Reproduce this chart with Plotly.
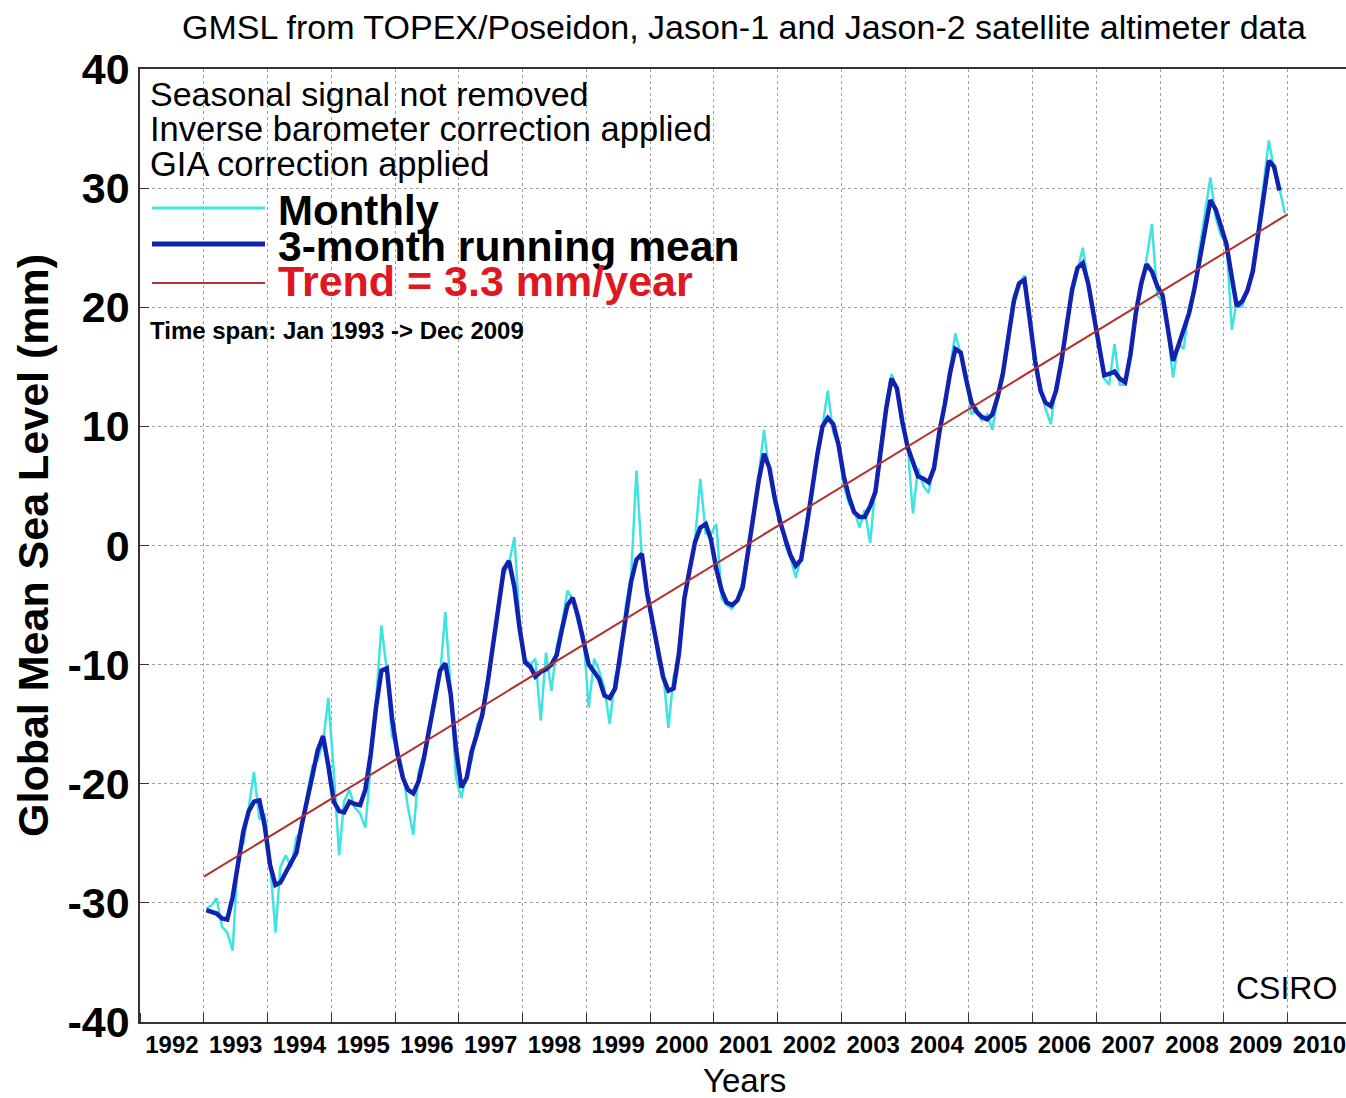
import plotly.graph_objects as go

# ---------------- data ----------------
years = list(range(1993, 2010))
month_dates = [f"{y}-{m:02d}-15" for y in years for m in range(1, 13)]

# Monthly GMSL (mm), Jan 1993 .. Dec 2009
monthly_mm = [
    -30.5, -30.2, -29.6, -32.0, -32.5, -34.0, -26.0, -25.0, -22.0, -19.0, -23.0, -22.5,  # 1993
    -26.5, -32.5, -27.0, -26.0, -27.0, -24.5, -24.0, -21.0, -18.5, -18.0, -16.5, -12.8,  # 1994
    -19.0, -26.0, -21.5, -20.5, -22.0, -22.5, -23.7, -18.5, -13.0, -6.7, -10.5, -16.0,   # 1995
    -17.0, -19.0, -22.0, -24.3, -19.0, -17.5, -15.0, -13.5, -11.0, -5.6, -12.0, -19.5,   # 1996
    -21.2, -19.0, -18.0, -15.0, -14.5, -11.0, -8.5, -5.0, -2.5, -1.5, 0.7, -6.5,         # 1997
    -9.5, -10.0, -9.5, -14.7, -9.0, -12.2, -8.5, -6.5, -3.8, -4.5, -6.5, -7.5,           # 1998
    -13.6, -9.5, -10.5, -12.0, -15.0, -11.0, -10.0, -5.0, -2.5, 6.3, -1.0, -4.0,         # 1999
    -6.0, -9.5, -10.5, -15.3, -11.0, -9.5, -4.0, -2.5, 0.5, 5.6, 1.0, 1.0,               # 2000
    1.8, -4.5, -5.0, -5.3, -4.5, -3.0, 0.0, 2.0, 6.0, 9.7, 6.0, 3.5,                     # 2001
    2.5, 0.0, -1.0, -2.7, -1.0, 2.0, 4.0, 8.0, 10.0, 13.0, 9.5, 8.5,                     # 2002
    5.0, 3.5, 3.0, 1.5, 3.0, 0.2, 5.0, 8.5, 12.0, 14.4, 13.0, 10.0,                      # 2003
    8.5, 2.7, 6.5, 5.0, 4.4, 7.0, 9.0, 12.0, 15.0, 17.8, 16.0, 14.5,                     # 2004
    11.0, 11.5, 10.5, 11.0, 9.7, 12.5, 14.0, 18.0, 21.0, 22.0, 22.7, 19.5,               # 2005
    15.0, 13.5, 11.5, 10.2, 13.5, 15.0, 19.0, 21.0, 23.0, 25.0, 22.0, 19.5,              # 2006
    16.5, 14.0, 13.5, 16.9, 13.5, 13.5, 16.5, 19.5, 21.5, 24.0, 27.0, 21.0,              # 2007
    20.5, 18.0, 14.1, 17.0, 16.5, 20.0, 21.5, 25.0, 28.0, 30.9, 27.5, 26.0,              # 2008
    25.5, 18.1, 20.5, 20.0, 21.5, 23.5, 26.5, 30.5, 34.0, 31.5, 30.0, 27.9,              # 2009
]

# 3-month running mean (mm), Jan 1993 .. Nov 2009
running_mean_mm = [
    -30.6, -30.8, -30.9, -31.3, -31.4, -29.5, -26.5, -24.0, -22.3, -21.5, -21.4, -23.5,  # 1993
    -26.8, -28.5, -28.3, -27.4, -26.6, -25.8, -23.5, -21.2, -19.3, -17.2, -16.0, -18.5,  # 1994
    -21.5, -22.3, -22.4, -21.5, -21.7, -21.8, -20.5, -17.5, -13.5, -10.5, -10.3, -14.5,  # 1995
    -17.5, -19.5, -20.5, -20.8, -19.8, -17.8, -15.5, -13.0, -10.5, -9.9, -12.5, -17.0,   # 1996
    -20.3, -19.5, -17.3, -15.8, -14.2, -11.5, -8.2, -4.8, -2.0, -1.3, -3.5, -7.0,        # 1997
    -9.8, -10.2, -11.0, -10.6, -10.4, -10.0, -9.2, -7.0, -5.0, -4.4, -6.0, -8.0,         # 1998
    -10.0, -10.6, -11.2, -12.6, -12.8, -12.0, -9.0, -5.5, -3.0, -1.2, -0.7, -4.0,        # 1999
    -6.5, -9.0, -11.0, -12.2, -12.0, -9.0, -4.5, -2.0, 0.3, 1.5, 1.8, 0.5,               # 2000
    -2.0, -3.8, -4.8, -5.0, -4.6, -3.5, -0.5, 2.5, 5.5, 7.7, 6.5, 4.0,                   # 2001
    2.0, 0.5, -0.8, -1.7, -1.2, 1.5, 4.5, 7.5, 10.0, 10.7, 10.2, 8.5,                    # 2002
    5.8, 4.0, 2.8, 2.4, 2.4, 3.3, 4.5, 8.0, 11.5, 14.0, 13.2, 10.5,                      # 2003
    8.3, 7.0, 5.8, 5.6, 5.3, 6.5, 9.5, 11.8, 14.5, 16.5, 16.2, 14.0,                     # 2004
    12.0, 11.2, 10.8, 10.6, 11.0, 12.5, 14.5, 17.5, 20.5, 22.0, 22.3, 19.0,              # 2005
    15.5, 13.0, 12.0, 11.7, 13.0, 15.5, 18.5, 21.5, 23.3, 23.7, 22.0, 19.5,              # 2006
    16.5, 14.3, 14.4, 14.6, 14.0, 13.7, 16.0, 19.5, 22.0, 23.6, 23.0, 21.8,              # 2007
    21.0, 18.0, 15.5, 16.8, 18.0, 19.5, 21.5, 24.0, 26.5, 29.0, 28.2, 26.8,              # 2008
    25.3, 22.5, 20.1, 20.5, 21.4, 23.0, 26.0, 29.5, 32.3, 31.8, 29.8,                    # 2009
]

trend_dates = ["1993-01-01", "2009-12-31"]
trend_mm = [-27.8, 27.8]

# x tick labels sit in the middle of each year; grid lines at year boundaries
x_tick_years = list(range(1992, 2011))
x_tick_positions = [f"{y}-07-02" for y in x_tick_years]
x_tick_labels = [str(y) for y in x_tick_years]

x_range = ["1992-01-01", "2010-12-01"]
y_range = [-40, 40]
y_tick_values = [-40, -30, -20, -10, 0, 10, 20, 30, 40]
y_tick_labels = ["-40", "-30", "-20", "-10", "0", "10", "20", "30", "40"]

# ---------------- styling ----------------
FONT = "Liberation Sans, Arial, Helvetica, sans-serif"
CYAN = "#3FE3DF"
BLUE = "#1222B0"
TREND = "#B3302C"
RED_TEXT = "#E01620"
GRID = "#a0a0a0"

W, H = 1346, 1098
L, R, T, B = 140, 0, 69, 76
PW, PH = W - L - R, H - T - B


def PX(px):
    return (px - L) / PW


def PY(py):
    return (H - B - py) / PH


fig = go.Figure()
fig.add_trace(go.Scatter(x=month_dates, y=monthly_mm, mode="lines",
                         line=dict(color=CYAN, width=2.5), name="Monthly"))
fig.add_trace(go.Scatter(x=month_dates[:len(running_mean_mm)], y=running_mean_mm, mode="lines",
                         line=dict(color=BLUE, width=4.5), name="3-month running mean"))
fig.add_trace(go.Scatter(x=trend_dates, y=trend_mm, mode="lines",
                         line=dict(color=TREND, width=2), name="Trend"))

ann = []


def text(x, y, s, size, xanchor="left", color="black", bold=False, angle=0):
    if bold:
        s = f"<b>{s}</b>"
    ann.append(dict(x=PX(x), y=PY(y), xref="paper", yref="paper", text=s, showarrow=False,
                    xanchor=xanchor, yanchor="middle", textangle=angle,
                    font=dict(family=FONT, size=size, color=color)))


text(744, 27, "GMSL from TOPEX/Poseidon, Jason-1 and Jason-2 satellite altimeter data", 34, "center")
text(148, 94, "Seasonal signal not removed", 34)
text(148, 129, "Inverse barometer correction applied", 34.5)
text(148, 164, "GIA correction applied", 34.5)
text(276, 210, "Monthly", 42, bold=True)
text(276, 246, "3-month running mean", 42.6, bold=True)
text(276, 281, "Trend = 3.3 mm/year", 43, color=RED_TEXT, bold=True)
text(148, 330, "Time span: Jan 1993 -&gt; Dec 2009", 24, bold=True)
text(1339, 988, "CSIRO", 32, "right")
text(744, 1080, "Years", 33, "center")
text(33, 546, "Global Mean Sea Level (mm)", 43, "center", bold=True, angle=-90)

shapes = []
for yy, col, wd in [(208, CYAN, 3), (244, BLUE, 5), (283, TREND, 2)]:
    shapes.append(dict(type="line", xref="paper", yref="paper", x0=PX(152), x1=PX(265),
                       y0=PY(yy), y1=PY(yy), line=dict(color=col, width=wd)))

fig.update_layout(
    width=W, height=H,
    margin=dict(l=L, r=R, t=T, b=B),
    paper_bgcolor="white", plot_bgcolor="white",
    showlegend=False,
    annotations=ann, shapes=shapes,
    font=dict(family=FONT, color="black"),
    xaxis=dict(type="date", range=x_range,
               tickmode="array", tickvals=x_tick_positions, ticktext=x_tick_labels,
               ticks="", showgrid=False, ticklabeloverflow="allow",
               minor=dict(tickmode="linear", tick0="1992-01-01", dtick="M12",
                          ticks="inside", ticklen=9, tickcolor="#333", tickwidth=1,
                          showgrid=True, gridcolor=GRID, griddash="dot", gridwidth=1),
               showline=True, linecolor="#333", linewidth=1.5, mirror=True,
               tickfont=dict(family=FONT, size=24, color="black", weight="bold"),
               ticklabelstandoff=0, zeroline=False),
    yaxis=dict(range=y_range, tickmode="array", tickvals=y_tick_values, ticktext=y_tick_labels,
               ticks="inside", ticklen=9, tickcolor="#333", tickwidth=1,
               showline=True, linecolor="#333", linewidth=1.5,
               showgrid=True, gridcolor=GRID, griddash="dot", gridwidth=1,
               tickfont=dict(family=FONT, size=43, color="black", weight="bold"),
               ticklabelstandoff=0, zeroline=False),
)

fig.write_html("out.html", config={"displayModeBar": False},
               post_script="document.body.style.margin='0';document.body.style.overflow='hidden';")
